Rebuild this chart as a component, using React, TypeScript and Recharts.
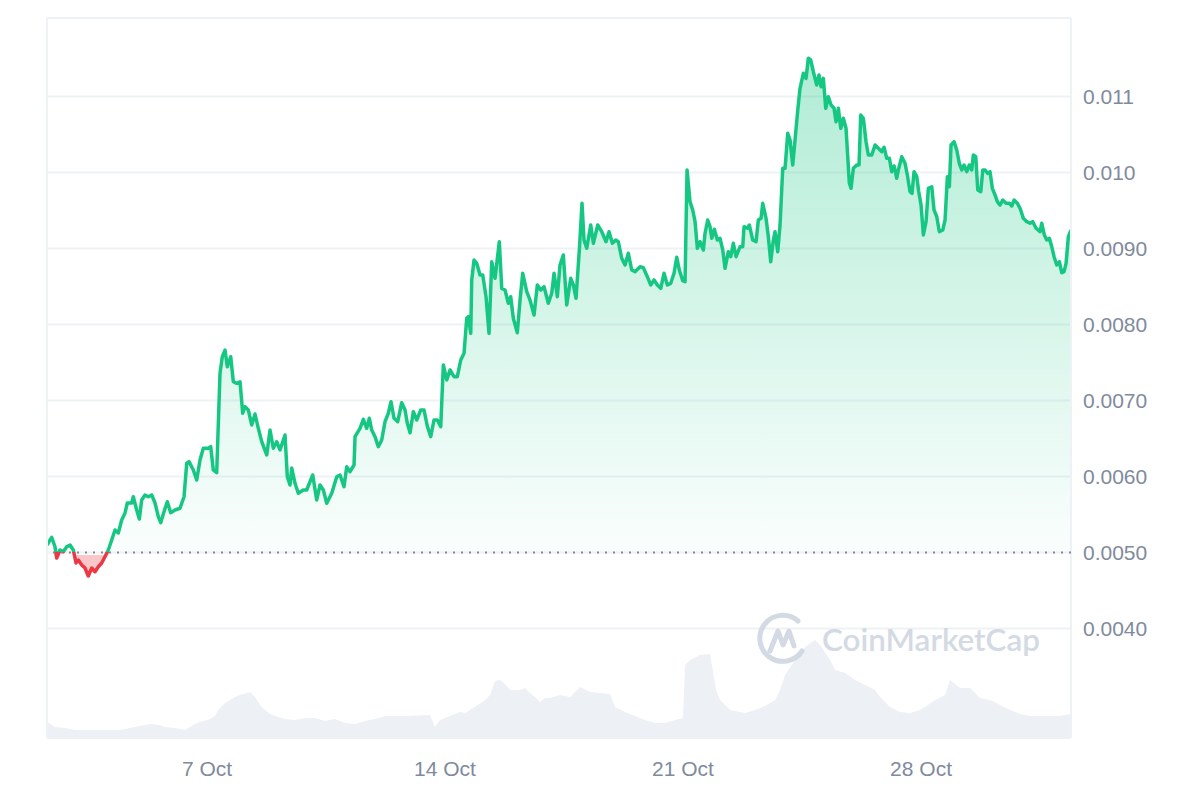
import { AreaChart, Area, XAxis, YAxis, CartesianGrid, ReferenceLine } from 'recharts';

// [day of October, price in USD]
const priceHistory: [number, number][] = [
  [2.294, 0.005099], [2.432, 0.0052], [2.529, 0.005076], [2.579, 0.004928], [2.676, 0.005033], [2.774, 0.005011],
  [2.874, 0.005076], [2.971, 0.005099], [3.068, 0.005033], [3.147, 0.004862], [3.215, 0.004901], [3.315, 0.004836],
  [3.412, 0.004796], [3.509, 0.004691], [3.609, 0.004796], [3.706, 0.004747], [3.803, 0.004813], [3.903, 0.004862],
  [4.0, 0.004945], [4.097, 0.005033], [4.197, 0.005164], [4.294, 0.005296], [4.391, 0.005257], [4.491, 0.005428],
  [4.588, 0.00552], [4.656, 0.005651], [4.785, 0.005651], [4.832, 0.005734], [4.932, 0.005559], [5.009, 0.005441],
  [5.079, 0.005691], [5.176, 0.005757], [5.274, 0.005734], [5.374, 0.005757], [5.471, 0.005651], [5.568, 0.005471],
  [5.638, 0.005392], [5.735, 0.005537], [5.832, 0.005668], [5.932, 0.005524], [6.059, 0.005559], [6.206, 0.005582],
  [6.324, 0.005734], [6.403, 0.006174], [6.471, 0.006195], [6.597, 0.006086], [6.697, 0.005954], [6.794, 0.006217],
  [6.891, 0.006371], [7.038, 0.006371], [7.109, 0.006392], [7.185, 0.006086], [7.285, 0.00605], [7.382, 0.007358],
  [7.45, 0.007576], [7.529, 0.007664], [7.597, 0.007445], [7.697, 0.007576], [7.774, 0.007247], [7.874, 0.007226],
  [7.971, 0.007247], [8.05, 0.006832], [8.118, 0.006918], [8.215, 0.006875], [8.315, 0.006678], [8.412, 0.006822],
  [8.509, 0.006634], [8.609, 0.006458], [8.756, 0.006283], [8.853, 0.006612], [8.95, 0.006371], [9.05, 0.006458],
  [9.147, 0.006349], [9.294, 0.006546], [9.362, 0.005997], [9.441, 0.005888], [9.491, 0.006112], [9.588, 0.005911],
  [9.685, 0.005779], [9.832, 0.005822], [9.932, 0.005822], [10.109, 0.00602], [10.226, 0.005691], [10.324, 0.005888],
  [10.421, 0.005822], [10.521, 0.005647], [10.668, 0.005779], [10.815, 0.005997], [10.912, 0.00602], [11.029, 0.005866],
  [11.109, 0.006129], [11.206, 0.006063], [11.324, 0.006151], [11.353, 0.006524], [11.5, 0.006634], [11.597, 0.006753],
  [11.697, 0.006634], [11.774, 0.006766], [11.844, 0.006612], [11.941, 0.006524], [12.038, 0.006392], [12.138, 0.00648],
  [12.235, 0.006721], [12.332, 0.006832], [12.412, 0.006984], [12.5, 0.006766], [12.609, 0.006721], [12.726, 0.006971],
  [12.824, 0.006875], [12.891, 0.0067], [12.971, 0.006576], [13.068, 0.006853], [13.168, 0.006743], [13.285, 0.006875],
  [13.382, 0.006875], [13.479, 0.006664], [13.579, 0.006524], [13.676, 0.006743], [13.774, 0.006743], [13.874, 0.006655],
  [13.95, 0.007467], [14.05, 0.00727], [14.147, 0.007401], [14.265, 0.007313], [14.362, 0.007313], [14.462, 0.007533],
  [14.559, 0.007621], [14.638, 0.008082], [14.685, 0.008103], [14.756, 0.007884], [14.785, 0.008586], [14.853, 0.008849],
  [14.932, 0.008805], [15.029, 0.008651], [15.109, 0.008651], [15.206, 0.008366], [15.294, 0.007884], [15.374, 0.008826],
  [15.471, 0.008608], [15.597, 0.009089], [15.668, 0.008476], [15.765, 0.008454], [15.862, 0.008279], [15.932, 0.008366],
  [16.009, 0.008082], [16.126, 0.007892], [16.206, 0.008322], [16.285, 0.008674], [16.403, 0.008432], [16.5, 0.008322],
  [16.618, 0.008125], [16.715, 0.00852], [16.815, 0.008454], [16.912, 0.008497], [17.038, 0.008279], [17.138, 0.008411],
  [17.206, 0.008674], [17.303, 0.008366], [17.382, 0.008783], [17.479, 0.008914], [17.579, 0.008257], [17.697, 0.008608],
  [17.774, 0.00852], [17.853, 0.008345], [17.95, 0.00898], [18.029, 0.009595], [18.088, 0.009112], [18.168, 0.009003],
  [18.285, 0.009309], [18.362, 0.009068], [18.491, 0.009309], [18.609, 0.009221], [18.735, 0.009089], [18.824, 0.009221],
  [18.921, 0.009068], [19.021, 0.009112], [19.097, 0.009089], [19.197, 0.008871], [19.294, 0.008783], [19.391, 0.008937],
  [19.491, 0.008717], [19.588, 0.008695], [19.735, 0.008761], [19.832, 0.008747], [19.95, 0.008629], [20.05, 0.00852],
  [20.147, 0.008586], [20.244, 0.00852], [20.344, 0.008476], [20.441, 0.008674], [20.538, 0.00852], [20.638, 0.008542],
  [20.735, 0.008674], [20.815, 0.008884], [20.891, 0.008717], [20.991, 0.008576], [21.059, 0.008563], [21.118, 0.010033],
  [21.206, 0.009616], [21.285, 0.009507], [21.353, 0.009353], [21.421, 0.009003], [21.5, 0.009089], [21.597, 0.00898],
  [21.647, 0.0092], [21.726, 0.009375], [21.794, 0.009287], [21.844, 0.009134], [21.921, 0.009253], [22.009, 0.009112],
  [22.088, 0.009134], [22.168, 0.00898], [22.235, 0.008739], [22.332, 0.008958], [22.403, 0.008892], [22.479, 0.009068],
  [22.559, 0.008892], [22.676, 0.009024], [22.756, 0.009024], [22.794, 0.009287], [22.891, 0.009266], [22.95, 0.009309],
  [23.05, 0.009112], [23.147, 0.009089], [23.215, 0.009375], [23.294, 0.009397], [23.344, 0.009595], [23.441, 0.009397],
  [23.509, 0.009155], [23.579, 0.008826], [23.656, 0.009112], [23.706, 0.009221], [23.785, 0.008958], [23.853, 0.009309],
  [23.932, 0.010055], [24.0, 0.010055], [24.079, 0.010516], [24.147, 0.010428], [24.226, 0.010099], [24.303, 0.010471],
  [24.374, 0.010822], [24.441, 0.011108], [24.538, 0.011305], [24.618, 0.011239], [24.685, 0.011503], [24.756, 0.01148],
  [24.832, 0.011326], [24.932, 0.011151], [25.0, 0.011283], [25.059, 0.011129], [25.126, 0.011239], [25.197, 0.010845],
  [25.274, 0.010997], [25.353, 0.010888], [25.441, 0.010845], [25.5, 0.010668], [25.568, 0.010845], [25.638, 0.010582],
  [25.715, 0.010713], [25.794, 0.010582], [25.844, 0.010208], [25.891, 0.009858], [25.941, 0.009792], [26.009, 0.010055],
  [26.109, 0.010099], [26.176, 0.010099], [26.226, 0.010757], [26.303, 0.010713], [26.382, 0.010405], [26.45, 0.01023],
  [26.55, 0.01023], [26.647, 0.010362], [26.744, 0.010318], [26.844, 0.010274], [26.912, 0.010332], [26.991, 0.010187],
  [27.068, 0.010187], [27.138, 0.010011], [27.206, 0.010086], [27.285, 0.009924], [27.332, 0.010033], [27.432, 0.010208],
  [27.529, 0.010121], [27.597, 0.009967], [27.676, 0.009747], [27.735, 0.009726], [27.794, 0.010011], [27.874, 0.009945],
  [27.932, 0.009747], [28.0, 0.009572], [28.068, 0.009178], [28.147, 0.009353], [28.215, 0.009792], [28.315, 0.009813],
  [28.382, 0.009507], [28.462, 0.009418], [28.538, 0.009221], [28.638, 0.009243], [28.706, 0.009375], [28.774, 0.009945],
  [28.832, 0.009813], [28.882, 0.010362], [28.971, 0.010405], [29.05, 0.010296], [29.126, 0.010121], [29.197, 0.010033],
  [29.265, 0.010099], [29.344, 0.010011], [29.421, 0.010099], [29.491, 0.010033], [29.538, 0.01023], [29.609, 0.010208],
  [29.668, 0.00977], [29.756, 0.009747], [29.815, 0.010033], [29.882, 0.010033], [29.962, 0.009989], [30.029, 0.010011],
  [30.097, 0.009792], [30.176, 0.009704], [30.244, 0.009616], [30.324, 0.009572], [30.403, 0.009638], [30.5, 0.009595],
  [30.597, 0.009595], [30.668, 0.009559], [30.735, 0.009638], [30.832, 0.009595], [30.912, 0.009529], [31.009, 0.009397],
  [31.109, 0.009353], [31.206, 0.009332], [31.285, 0.009353], [31.382, 0.009266], [31.5, 0.009221], [31.55, 0.009332],
  [31.626, 0.009178], [31.697, 0.009112], [31.774, 0.009134], [31.844, 0.009024], [31.912, 0.008892], [31.991, 0.008783],
  [32.068, 0.008826], [32.138, 0.008682], [32.206, 0.008695], [32.265, 0.008805], [32.332, 0.009155], [32.41, 0.009243],
];

// [day of October, 24h volume in M USD]
const volumeHistory: [number, number][] = [
  [2.294, 8], [2.529, 5.5], [2.824, 5], [3.118, 4], [3.853, 4], [4.441, 4], [4.735, 5], [5.029, 6], [5.324, 7],
  [5.618, 6.5], [5.765, 5.5], [6.059, 5], [6.353, 4], [6.5, 5.5], [6.647, 7], [6.794, 8], [7.088, 9.5], [7.235, 11],
  [7.324, 14], [7.529, 17.5], [7.824, 20.5], [7.971, 21.5], [8.265, 23], [8.412, 20.5], [8.559, 16.5], [8.706, 14],
  [8.853, 12], [9.0, 11], [9.294, 9.5], [9.588, 9], [9.882, 10], [10.176, 10], [10.471, 8.5], [10.765, 9.5],
  [11.059, 7.5], [11.353, 7], [11.647, 8.5], [11.941, 9.5], [12.235, 11], [12.824, 11], [13.559, 11.5], [13.706, 5.5],
  [13.853, 9], [14.147, 11], [14.441, 13], [14.588, 12.5], [14.882, 15.5], [15.176, 19], [15.324, 21.5], [15.471, 28.5],
  [15.618, 29], [15.765, 27], [15.912, 24], [16.206, 24], [16.353, 25], [16.5, 22.5], [16.647, 20.5], [16.794, 18],
  [16.941, 20], [17.088, 20], [17.382, 21.5], [17.676, 20.5], [17.971, 25.5], [18.265, 23], [18.853, 22], [19.0, 15.5],
  [19.294, 13], [19.588, 11], [19.882, 9], [20.176, 7.5], [20.471, 7.5], [20.765, 9], [21.0, 10], [21.059, 36.5],
  [21.206, 39], [21.5, 41.5], [21.794, 42], [21.971, 24], [22.088, 19], [22.382, 14], [22.824, 12.5], [23.118, 14],
  [23.412, 16], [23.706, 19], [23.853, 24], [24.0, 31.5], [24.294, 39], [24.588, 45.5], [24.882, 49], [25.029, 46.5],
  [25.324, 39], [25.471, 34], [25.765, 32.5], [26.059, 29], [26.353, 26.5], [26.647, 24], [26.794, 20.5], [27.088, 15.5],
  [27.382, 13], [27.676, 12.5], [27.971, 14], [28.118, 15.5], [28.412, 19], [28.706, 21.5], [28.853, 29], [29.147, 25],
  [29.441, 25], [29.735, 20], [30.029, 19], [30.324, 16.5], [30.618, 14], [30.912, 12], [31.206, 11], [32.088, 11],
  [32.41, 12],
];

const xTicks = [7, 14, 21, 28];
const yTicks = [0.004, 0.005, 0.006, 0.007, 0.008, 0.009, 0.01, 0.011];
const openPrice = 0.005;
const priceDomain: [number, number] = [0.002559, 0.012033];
const volumeDomain: [number, number] = [0, 360];

const GREEN = '#16c784';
const RED = '#ea3943';
const GRID = '#eff2f5';
const AXIS_TEXT = '#808a9d';

const chartData = [
  ...priceHistory.map(([t, price]) => ({ t, price })),
  ...volumeHistory.map(([t, volume]) => ({ t, volume })),
].sort((a, b) => a.t - b.t);

const prices = priceHistory.map((d) => d[1]);
const maxPrice = Math.max(...prices);
const minPrice = Math.min(...prices);
const splitOffset = (maxPrice - openPrice) / (maxPrice - minPrice);
// keep the pink fill just below the dotted open-price line so the dots stay grey
const redStart = Math.min(1, splitOffset + 0.004);
const xMin = priceHistory[0][0];
const xMax = priceHistory[priceHistory.length - 1][0];

const formatPrice = (v: number) => (v >= 0.0095 ? v.toFixed(3) : v.toFixed(4));

export default function App() {
  return (
    <div style={{ position: 'absolute', left: 0, top: 0, width: 1200, height: 800, background: '#fff', fontFamily: '"Liberation Sans", Arial, sans-serif' }}>
      <AreaChart width={1200} height={800} data={chartData} margin={{ top: 18, right: 0, bottom: 0, left: 47 }}>
        <defs>
          <linearGradient id="priceStroke" x1="0" y1="0" x2="0" y2="1">
            <stop offset={splitOffset} stopColor={GREEN} />
            <stop offset={splitOffset} stopColor={RED} />
          </linearGradient>
          <linearGradient id="priceFill" x1="0" y1="0" x2="0" y2="1">
            <stop offset={0} stopColor={GREEN} stopOpacity={0.34} />
            <stop offset={splitOffset} stopColor={GREEN} stopOpacity={0.02} />
            <stop offset={splitOffset} stopColor={RED} stopOpacity={0} />
            <stop offset={redStart} stopColor={RED} stopOpacity={0} />
            <stop offset={redStart} stopColor={RED} stopOpacity={0.28} />
            <stop offset={1} stopColor={RED} stopOpacity={0.28} />
          </linearGradient>
        </defs>
        <CartesianGrid yAxisId="price" vertical={false} stroke={GRID} strokeWidth={2} />
        <XAxis
          dataKey="t"
          type="number"
          domain={[xMin, xMax]}
          allowDataOverflow
          ticks={xTicks}
          tickFormatter={(d) => `${d} Oct`}
          axisLine={false}
          tickLine={false}
          height={62}
          tickMargin={17}
          tick={{ fill: AXIS_TEXT, fontSize: 21 }}
        />
        <YAxis
          yAxisId="price"
          orientation="right"
          domain={priceDomain}
          allowDataOverflow
          ticks={yTicks}
          tickFormatter={formatPrice}
          axisLine={false}
          tickLine={false}
          width={129}
          tickMargin={6}
          tick={{ fill: AXIS_TEXT, fontSize: 21 }}
        />
        <YAxis yAxisId="vol" hide domain={volumeDomain} />
        <ReferenceLine yAxisId="price" y={priceDomain[1]} stroke={GRID} strokeWidth={2} />
        <ReferenceLine yAxisId="price" x={xMin} stroke={GRID} strokeWidth={2} />
        <ReferenceLine yAxisId="price" x={xMax} stroke={GRID} strokeWidth={2} />
        <Area
          yAxisId="vol"
          type="linear"
          dataKey="volume"
          stroke="none"
          fill="#edf0f4"
          fillOpacity={1}
          connectNulls
          dot={false}
          activeDot={false}
          isAnimationActive={false}
        />
        <Area
          yAxisId="price"
          type="linear"
          dataKey="price"
          baseValue={openPrice}
          stroke="url(#priceStroke)"
          strokeWidth={3.5}
          strokeLinejoin="round"
          fill="url(#priceFill)"
          fillOpacity={1}
          connectNulls
          dot={false}
          activeDot={false}
          isAnimationActive={false}
        />
        <ReferenceLine yAxisId="price" y={openPrice} stroke="#858b96" strokeWidth={2} strokeDasharray="2 6" />
      </AreaChart>
      <svg width={1200} height={800} style={{ position: 'absolute', left: 0, top: 0, pointerEvents: 'none' }}>
        <g opacity={0.85} fill="none" stroke="#ccd4e0" strokeWidth={5} strokeLinecap="round" strokeLinejoin="round">
          <path d="M 802 651 A 23 23 0 1 1 798 621" />
          <path d="M 770 651 L 778 631 L 783 645 L 789 631 L 794 646" />
        </g>
        <text x={822} y={651} fontSize={30} fontWeight={600} fill="#ccd4e0" opacity={0.85} textLength={218} lengthAdjust="spacingAndGlyphs" style={{ fontFamily: 'Lato, "Open Sans", sans-serif' }}>
          CoinMarketCap
        </text>
      </svg>
    </div>
  );
}
